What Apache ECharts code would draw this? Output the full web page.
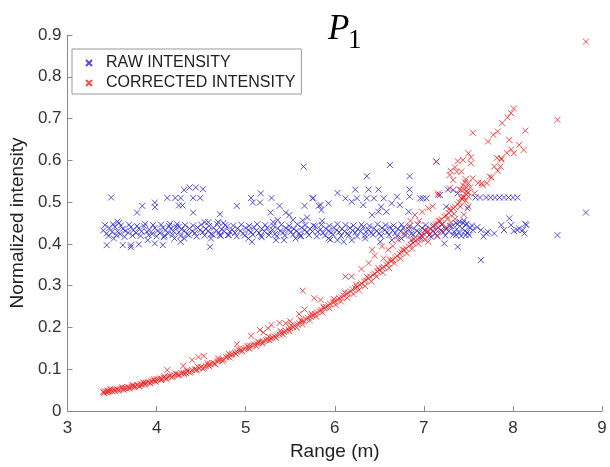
<!DOCTYPE html>
<html>
<head>
<meta charset="utf-8">
<title>P1 intensity</title>
<script src="https://cdn.jsdelivr.net/npm/echarts@6/dist/echarts.min.js"></script>
<style>
html,body{margin:0;padding:0;background:#fff;}
#main{width:610px;height:467px;}
</style>
</head>
<body>
<div id="main"></div>
<script>
// legend names
var seriesNames = ['RAW INTENSITY', 'CORRECTED INTENSITY'];
// axis ticks
var xTicks = [3, 4, 5, 6, 7, 8, 9];
var yTicks = [0, 0.1, 0.2, 0.3, 0.4, 0.5, 0.6, 0.7, 0.8, 0.9];

// raw intensity - dense band around 0.43
var rawBand = [
    [3.40,0.432],[3.44,0.425],[3.47,0.438],[3.50,0.428],[3.53,0.441],[3.56,0.430],[3.59,0.423],[3.62,0.436],[3.65,0.431],[3.68,0.427],
    [3.71,0.440],[3.74,0.433],[3.77,0.426],[3.80,0.437],[3.83,0.430],[3.86,0.442],[3.89,0.429],[3.92,0.434],[3.95,0.424],[3.98,0.438],
    [4.01,0.431],[4.04,0.427],[4.07,0.439],[4.10,0.433],[4.13,0.425],[4.16,0.436],[4.19,0.430],[4.22,0.441],[4.25,0.428],[4.28,0.435],
    [4.31,0.432],[4.34,0.424],[4.37,0.437],[4.40,0.430],[4.43,0.426],[4.46,0.439],[4.49,0.433],[4.52,0.428],[4.55,0.436],[4.58,0.431],
    [4.61,0.423],[4.64,0.438],[4.67,0.432],[4.70,0.427],[4.73,0.435],[4.76,0.430],[4.79,0.441],[4.82,0.429],[4.85,0.434],[4.88,0.426],
    [4.91,0.437],[4.94,0.431],[4.97,0.425],[5.00,0.438],[5.03,0.433],[5.06,0.428],[5.09,0.440],[5.12,0.432],[5.15,0.426],[5.18,0.436],
    [5.21,0.430],[5.24,0.439],[5.27,0.428],[5.30,0.434],[5.33,0.424],[5.36,0.437],[5.39,0.431],[5.42,0.427],[5.45,0.438],[5.48,0.433],
    [5.51,0.429],[5.54,0.436],[5.57,0.431],[5.60,0.425],[5.63,0.439],[5.66,0.433],[5.69,0.428],[5.72,0.436],[5.75,0.430],[5.78,0.442],
    [5.81,0.429],[5.84,0.435],[5.87,0.426],[5.90,0.437],[5.93,0.431],[5.96,0.427],[5.99,0.439],[6.02,0.433],[6.05,0.428],[6.08,0.436],
    [6.11,0.430],[6.14,0.424],[6.17,0.438],[6.20,0.432],[6.23,0.427],[6.26,0.435],[6.29,0.430],[6.32,0.441],[6.35,0.429],[6.38,0.434],
    [6.41,0.426],[6.44,0.437],[6.47,0.431],[6.50,0.425],[6.53,0.438],[6.56,0.433],[6.59,0.428],[6.62,0.440],[6.65,0.432],[6.68,0.426],
    [6.71,0.436],[6.74,0.430],[6.77,0.439],[6.80,0.428],[6.83,0.434],[6.86,0.424],[6.89,0.437],[6.92,0.431],[6.95,0.427],[6.98,0.438],
    [7.01,0.433],[7.04,0.429],[7.07,0.436],[7.10,0.431],[7.13,0.425],[7.16,0.439],[7.19,0.433],[7.22,0.428],[7.25,0.436],[7.28,0.430],
    [7.31,0.442],[7.34,0.429],[7.37,0.435],[7.40,0.426],[7.43,0.437],[7.46,0.431],[7.49,0.427],[7.52,0.438],[7.55,0.433],
    [3.42,0.445],[3.46,0.419],[3.51,0.447],[3.55,0.421],[3.60,0.444],[3.64,0.417],[3.69,0.446],[3.73,0.420],[3.78,0.443],[3.82,0.419],
    [3.87,0.448],[3.91,0.421],[3.96,0.445],[4.00,0.418],[4.05,0.446],[4.09,0.420],[4.14,0.443],[4.18,0.422],[4.23,0.447],[4.27,0.419],
    [4.32,0.445],[4.36,0.421],[4.41,0.444],[4.45,0.418],[4.50,0.446],[4.54,0.420],[4.59,0.443],[4.63,0.422],[4.68,0.447],[4.72,0.419],
    [4.77,0.445],[4.81,0.421],[4.86,0.444],[4.90,0.418],[4.95,0.446],[4.99,0.420],[5.04,0.443],[5.08,0.422],[5.13,0.447],[5.17,0.419],
    [5.22,0.445],[5.26,0.421],[5.31,0.444],[5.35,0.418],[5.40,0.446],[5.44,0.420],[5.49,0.443],[5.53,0.422],[5.58,0.447],[5.62,0.419],
    [5.67,0.445],[5.71,0.421],[5.76,0.444],[5.80,0.418],[5.85,0.446],[5.89,0.420],[5.94,0.443],[5.98,0.422],[6.03,0.447],[6.07,0.419],
    [6.12,0.445],[6.16,0.421],[6.21,0.444],[6.25,0.418],[6.30,0.446],[6.34,0.420],[6.39,0.443],[6.43,0.422],[6.48,0.447],[6.52,0.419],
    [6.57,0.445],[6.61,0.421],[6.66,0.444],[6.70,0.418],[6.75,0.446],[6.79,0.420],[6.84,0.443],[6.88,0.422],[6.93,0.447],[6.97,0.419],
    [7.02,0.445],[7.06,0.421],[7.11,0.444],[7.15,0.418],[7.20,0.446],[7.24,0.420],[7.29,0.443],[7.33,0.422],[7.38,0.447],[7.42,0.419],
    [7.47,0.445],[7.51,0.421],[7.54,0.444],[7.36,0.450],[7.40,0.453],[7.44,0.450],[7.48,0.448],[7.45,0.456]
];

// raw intensity - scattered points above / below the band and the tail past 7.5 m
var rawSpread = [
    [3.49,0.511],[3.78,0.475],[3.84,0.491],[3.98,0.499],[3.98,0.488],[4.12,0.510],[4.21,0.510],[4.27,0.510],[4.25,0.492],[4.29,0.492],
    [4.31,0.529],[4.37,0.535],[4.44,0.535],[4.52,0.531],[4.41,0.510],[4.49,0.510],[4.41,0.475],[4.71,0.471],[4.90,0.491],[5.06,0.510],
    [5.17,0.521],[5.08,0.499],[5.16,0.499],[5.29,0.510],[5.28,0.475],[5.38,0.491],[5.45,0.475],[5.49,0.469],[5.65,0.585],[5.66,0.491],
    [5.64,0.456],[5.69,0.463],[5.76,0.510],[5.82,0.491],[5.85,0.481],[5.86,0.455],
    [3.44,0.397],[3.52,0.413],[3.62,0.397],[3.71,0.397],[3.71,0.392],[3.80,0.399],[3.90,0.409],[3.98,0.401],[4.07,0.397],[4.08,0.416],
    [4.20,0.413],[4.27,0.405],[4.31,0.413],[4.60,0.393],[4.61,0.413],[4.71,0.421],[4.80,0.421],[5.03,0.413],[5.07,0.405],[5.18,0.416],
    [5.34,0.409],[5.43,0.409],[5.56,0.413],[5.61,0.418],[5.95,0.410],
    [4.15,0.448],[4.25,0.441],[4.54,0.452],[4.58,0.452],[4.69,0.452],[4.75,0.450],[5.31,0.452],[5.36,0.457],[5.53,0.457],[3.58,0.450],
    [3.56,0.453],
    [6.62,0.589],[6.36,0.562],[6.84,0.562],[6.23,0.530],[6.38,0.530],[6.49,0.530],[6.84,0.530],[6.03,0.522],[6.12,0.509],[6.25,0.509],
    [6.36,0.509],[6.44,0.509],[6.55,0.509],[6.70,0.513],[6.84,0.513],[6.96,0.509],[6.99,0.509],[7.03,0.509],[7.18,0.517],[7.27,0.530],
    [7.33,0.529],[7.38,0.521],[5.75,0.509],[5.84,0.493],[5.93,0.497],[6.19,0.501],[6.32,0.493],[6.52,0.489],[6.64,0.497],[6.73,0.493],
    [6.83,0.477],[6.49,0.477],[6.58,0.477],[6.42,0.469],[7.25,0.489],[7.49,0.485],[7.14,0.597],
    [7.58,0.511],[7.63,0.511],[7.70,0.511],[7.75,0.511],[7.80,0.511],[7.85,0.511],[7.90,0.511],[7.95,0.511],[8.00,0.511],[8.05,0.511],
    [5.93,0.413],[6.03,0.409],[6.10,0.405],[6.19,0.409],[6.34,0.413],[6.51,0.405],[6.64,0.409],[6.75,0.413],[6.86,0.409],[6.97,0.413],
    [7.08,0.417],[7.23,0.401],[7.36,0.421],[7.38,0.393],[7.47,0.421],[7.64,0.361],[7.72,0.429],[7.79,0.425],[7.87,0.445],[7.90,0.433],
    [7.96,0.461],[7.98,0.445],[8.05,0.433],[8.11,0.433],[8.15,0.445],[7.64,0.433],[7.70,0.425],[8.50,0.421],[8.14,0.448],[8.13,0.425],
    [8.01,0.431],[8.07,0.437],[8.82,0.475],[7.60,0.440],[7.67,0.418]
];

// corrected intensity - main rising band
var corrCurve = [
    [3.40,0.046],[3.42,0.047],[3.44,0.045],[3.45,0.049],[3.47,0.048],[3.49,0.050],[3.50,0.047],[3.52,0.051],[3.54,0.050],[3.56,0.052],
    [3.58,0.051],[3.60,0.054],[3.62,0.053],[3.64,0.055],[3.66,0.054],[3.68,0.057],[3.70,0.056],[3.72,0.058],[3.74,0.060],[3.76,0.059],
    [3.78,0.062],[3.80,0.061],[3.82,0.064],[3.84,0.063],[3.86,0.066],[3.88,0.067],[3.90,0.069],[3.92,0.068],[3.94,0.071],[3.96,0.073],
    [3.98,0.072],[4.00,0.076],[4.02,0.075],[4.04,0.078],[4.06,0.077],[4.08,0.080],[4.10,0.079],[4.13,0.082],[4.15,0.084],[4.18,0.083],
    [4.20,0.086],[4.23,0.088],[4.25,0.087],[4.28,0.090],[4.30,0.092],[4.33,0.091],[4.35,0.095],[4.38,0.094],[4.40,0.098],[4.43,0.100],
    [4.45,0.099],[4.48,0.103],[4.50,0.105],[4.53,0.104],[4.55,0.108],[4.58,0.110],[4.60,0.112],[4.63,0.115],[4.65,0.114],[4.68,0.119],
    [4.70,0.121],[4.73,0.124],[4.75,0.123],[4.78,0.129],[4.80,0.131],[4.83,0.134],[4.85,0.136],[4.88,0.139],[4.90,0.142],[4.93,0.144],
    [4.95,0.146],[4.98,0.148],[5.00,0.151],[5.03,0.152],[5.05,0.156],[5.08,0.157],[5.10,0.159],[5.13,0.161],[5.15,0.164],[5.18,0.165],
    [5.20,0.167],[5.23,0.170],[5.25,0.171],[5.28,0.174],[5.30,0.176],[5.33,0.178],[5.35,0.181],[5.38,0.183],[5.40,0.187],[5.43,0.189],
    [5.45,0.192],[5.48,0.195],[5.50,0.198],[5.53,0.201],[5.55,0.204],[5.58,0.207],[5.60,0.210],[5.63,0.214],[5.65,0.216],[5.68,0.220],
    [5.70,0.223],[5.73,0.226],[5.75,0.229],[5.78,0.232],[5.80,0.236],[5.83,0.239],[5.85,0.242],[5.88,0.246],[5.90,0.249],[5.93,0.253],
    [5.95,0.256],[5.98,0.260],[6.00,0.262],[6.03,0.266],[6.05,0.270],[6.08,0.272],[6.10,0.276],[6.13,0.280],[6.15,0.283],[6.18,0.286],
    [6.20,0.291],[6.23,0.294],[6.25,0.297],[6.28,0.302],[6.30,0.305],[6.33,0.310],[6.35,0.313],[6.38,0.318],[6.40,0.321],[6.43,0.326],
    [6.45,0.329],[6.48,0.334],[6.50,0.337],[6.53,0.342],[6.55,0.345],[6.58,0.350],[6.60,0.353],[6.63,0.358],[6.65,0.362],[6.68,0.367],
    [6.70,0.371],[6.73,0.376],[6.75,0.380],[6.78,0.385],[6.80,0.389],[6.83,0.394],[6.85,0.398],[6.88,0.402],[6.90,0.406],[6.93,0.411],
    [6.95,0.414],[6.98,0.419],[7.00,0.423],[7.03,0.428],[7.05,0.431],[7.08,0.437],[7.10,0.441],[7.13,0.446],[7.15,0.449],[7.18,0.455],
    [7.20,0.459],[7.23,0.465],[7.25,0.468],[7.28,0.474],[7.30,0.479],[7.33,0.485],[7.35,0.489],[7.38,0.495],[7.40,0.500],[7.43,0.507],
    [7.45,0.512],[7.48,0.518],[7.50,0.523],
    [3.41,0.043],[3.46,0.046],[3.53,0.048],[3.57,0.049],[3.63,0.051],[3.69,0.054],[3.75,0.057],[3.81,0.059],[3.87,0.063],[3.93,0.066],
    [3.99,0.070],[4.05,0.074],[4.11,0.077],[4.17,0.081],[4.24,0.085],[4.31,0.088],[4.37,0.092],[4.44,0.097],[4.52,0.101],[4.59,0.107],
    [4.66,0.112],[4.74,0.119],[4.82,0.128],[4.89,0.136],[4.96,0.143],[5.04,0.149],[5.12,0.155],[5.19,0.162],[5.27,0.169],[5.34,0.175],
    [5.42,0.183],[5.49,0.191],[5.57,0.200],[5.64,0.207],[5.72,0.217],[5.79,0.226],[5.86,0.236],[5.94,0.246],[6.01,0.254],[6.07,0.262],
    [6.14,0.271],[6.21,0.280],[6.27,0.289],[6.34,0.299],[6.41,0.310],[6.47,0.322],[6.54,0.331],[6.61,0.342],[6.67,0.354],[6.74,0.365],
    [6.81,0.377],[6.87,0.389],[6.94,0.400],[7.01,0.410],[7.07,0.424],[7.14,0.434],[7.21,0.447],[7.27,0.461],[7.34,0.472],[7.41,0.489],
    [7.47,0.503],
    [3.48,0.053],[3.61,0.057],[3.73,0.062],[3.85,0.068],[3.97,0.076],[4.09,0.083],[4.21,0.090],[4.34,0.097],[4.46,0.106],[4.57,0.115],
    [4.69,0.126],[4.81,0.137],[4.92,0.148],[5.02,0.156],[5.14,0.166],[5.26,0.178],[5.39,0.192],[5.51,0.205],[5.62,0.218],[5.74,0.233],
    [5.87,0.250],[5.99,0.268],[6.11,0.284],[6.24,0.302],[6.36,0.321],[6.49,0.342],[6.62,0.362],[6.76,0.386],[6.89,0.412],[7.02,0.432],
    [7.16,0.456],[7.29,0.484],[7.42,0.510]
];

// corrected intensity - scatter off the band and the upper branch past 7.3 m
var corrSpread = [
    [4.12,0.098],[4.30,0.108],[4.40,0.122],[4.47,0.129],[4.53,0.132],[4.90,0.160],[5.06,0.180],[5.16,0.194],[5.29,0.206],[5.38,0.211],
    [5.64,0.288],[5.77,0.270],[5.84,0.266],[5.66,0.243],[5.50,0.215],[5.45,0.210],[5.60,0.232],[5.20,0.188],[5.25,0.198],
    [6.12,0.322],[6.19,0.322],[6.38,0.354],[6.42,0.386],[6.53,0.394],[6.60,0.386],[6.71,0.410],[6.83,0.441],[6.90,0.469],[6.98,0.477],
    [7.05,0.485],[7.16,0.521],[7.29,0.533],[7.37,0.573],[7.42,0.529],[7.50,0.513],[7.57,0.521],[7.65,0.545],[7.74,0.561],[7.79,0.585],
    [7.87,0.605],[6.30,0.340],[6.45,0.372],[6.55,0.365],[6.65,0.395],[6.78,0.425],[6.95,0.455],[7.10,0.490],[6.85,0.455],
    [8.01,0.724],[7.98,0.713],[7.94,0.703],[7.88,0.689],[7.83,0.669],[7.78,0.661],[7.72,0.645],[8.14,0.671],[7.96,0.649],[8.07,0.637],
    [8.12,0.625],[7.98,0.626],[8.01,0.617],[7.93,0.618],[7.87,0.602],[7.82,0.606],[7.86,0.585],[7.83,0.575],[7.76,0.559],[7.71,0.545],
    [7.66,0.541],[7.61,0.546],[7.55,0.666],[7.50,0.617],[7.53,0.607],[7.53,0.593],[7.44,0.601],[7.38,0.598],[7.35,0.583],[7.30,0.575],
    [7.42,0.573],[7.29,0.565],[7.33,0.553],[7.55,0.557],[7.48,0.525],[7.44,0.513],[7.14,0.597],[7.16,0.517],[8.50,0.697],[8.82,0.884],
    [7.44,0.540],[7.46,0.548],[7.48,0.535],[7.40,0.530],[7.47,0.555],[7.50,0.545],[7.45,0.530],[7.52,0.535],
    [7.05,0.405],[7.15,0.420],[7.25,0.440],[7.30,0.450],[7.35,0.460],[7.45,0.470],[7.50,0.490],[7.20,0.430]
];

var rawColor = '#2424d8';
var corrColor = '#f22020';
// 'x' marker, drawn as stroke only
var crossMark = 'path://M0,0L10,10M10,0L0,10';

var chart = echarts.init(document.getElementById('main'), null, {renderer: 'canvas'});

var option = {
    animation: false,
    backgroundColor: '#fff',
    title: [
        {
            text: 'P',
            left: 323,
            top: 7,
            textStyle: {fontFamily: 'Liberation Serif', fontStyle: 'italic', fontWeight: 'normal', fontSize: 35, color: '#000'}
        },
        {
            text: '1',
            left: 343,
            top: 22,
            textStyle: {fontFamily: 'Liberation Serif', fontWeight: 'normal', fontSize: 27, color: '#000'}
        }
    ],
    legend: {
        orient: 'vertical',
        left: 72,
        top: 49,
        padding: [6, 6, 3, 13],
        itemGap: 4,
        itemWidth: 24,
        itemHeight: 6,
        backgroundColor: '#fff',
        borderColor: '#999',
        borderWidth: 1,
        textStyle: {fontFamily: 'Liberation Sans', fontSize: 16, color: '#222', lineHeight: 16},
        data: seriesNames
    },
    grid: {left: 63, right: 8, top: 35, bottom: 56},
    xAxis: {
        type: 'value',
        min: xTicks[0],
        max: xTicks[xTicks.length - 1],
        interval: 1,
        name: 'Range (m)',
        nameLocation: 'middle',
        nameGap: 25,
        nameTextStyle: {fontFamily: 'Liberation Sans', fontSize: 19, color: '#222'},
        axisLine: {lineStyle: {color: '#888', width: 1}},
        axisTick: {inside: true, length: 5, lineStyle: {color: '#888'}},
        axisLabel: {margin: 9, fontFamily: 'Liberation Sans', fontSize: 17, color: '#333'},
        splitLine: {show: false}
    },
    yAxis: {
        type: 'value',
        min: yTicks[0],
        max: yTicks[yTicks.length - 1],
        interval: 0.1,
        name: 'Normalized intensity',
        nameLocation: 'middle',
        nameGap: 34,
        nameTextStyle: {fontFamily: 'Liberation Sans', fontSize: 19, color: '#222'},
        axisLine: {show: true, lineStyle: {color: '#888', width: 1}},
        axisTick: {show: true, inside: true, length: 5, lineStyle: {color: '#888'}},
        axisLabel: {margin: 6, fontFamily: 'Liberation Sans', fontSize: 17, color: '#333'},
        splitLine: {show: false}
    },
    series: [
        {
            name: seriesNames[0],
            type: 'scatter',
            symbol: crossMark,
            symbolSize: 6,
            symbolKeepAspect: true,
            itemStyle: {color: 'rgba(0,0,0,0)', borderColor: rawColor, borderWidth: 1},
            data: rawBand.concat(rawSpread)
        },
        {
            name: seriesNames[1],
            type: 'scatter',
            symbol: crossMark,
            symbolSize: 6,
            symbolKeepAspect: true,
            itemStyle: {color: 'rgba(0,0,0,0)', borderColor: corrColor, borderWidth: 1},
            data: corrCurve.concat(corrSpread)
        }
    ]
};

chart.setOption(option);
</script>
</body>
</html>
